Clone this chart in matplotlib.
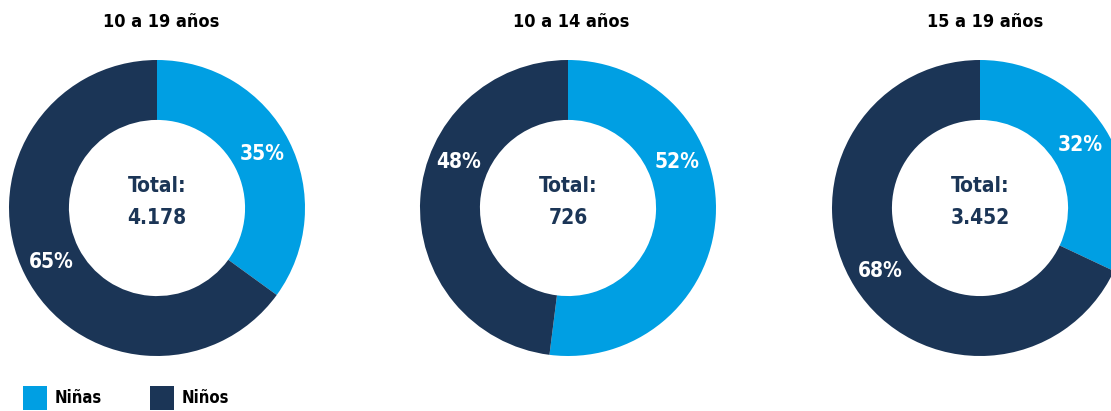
import matplotlib
matplotlib.use("Agg")
import numpy as np
import matplotlib.pyplot as plt
from matplotlib.patches import Patch

# data
groups = ["10 a 19 años", "10 a 14 años", "15 a 19 años"]
totals = ["4.178", "726", "3.452"]
ninas_pct = [35, 52, 32]
ninos_pct = [65, 48, 68]
legend_labels = ["Niñas", "Niños"]

LIGHT = "#009fe3"
DARK = "#1b3556"
plt.rcParams["font.family"] = ["DejaVu Sans"]
plt.rcParams["font.stretch"] = "condensed"
plt.rcParams["font.weight"] = "bold"

fig = plt.figure(figsize=(11.11, 4.11), dpi=100)

W, H = 1111, 411
R = 148  # outer radius in px
centers_x = [157, 568, 980]
center_y = 411 - 208
title_x = [161, 571, 985]

for i, group in enumerate(groups):
    ax = fig.add_axes([(centers_x[i] - R) / W, (center_y - R) / H, 2 * R / W, 2 * R / H])
    vals = [ninas_pct[i], ninos_pct[i]]
    wedges, _ = ax.pie(vals, colors=[LIGHT, DARK], startangle=90, counterclock=False,
                       radius=1, wedgeprops=dict(width=0.405, edgecolor="none"))
    # percent labels in the ring
    for w, v in zip(wedges, vals):
        ang = (w.theta1 + w.theta2) / 2
        if i == 1:
            # labels in the middle chart sit higher up
            ang = 23 if v == ninas_pct[i] else 157
        r = 0.8
        ax.text(r * np.cos(np.radians(ang)), r * np.sin(np.radians(ang)), f"{v}%",
                ha="center", va="center", color="white", fontsize=15, fontweight="bold")
    ax.text(0, 0.15, "Total:", ha="center", va="center", color=DARK, fontsize=15, fontweight="bold")
    ax.text(0, -0.07, totals[i], ha="center", va="center", color=DARK, fontsize=15, fontweight="bold")
    ax.set_xlim(-1, 1)
    ax.set_ylim(-1, 1)
    ax.set_aspect("equal")
    ax.axis("off")
    fig.text(title_x[i] / W, 1 - 22 / H, group, ha="center", va="center",
             fontsize=13, fontweight="bold", color="black")

handles = [Patch(facecolor=LIGHT), Patch(facecolor=DARK)]
fig.legend(handles, legend_labels, loc="lower left", bbox_to_anchor=(0.007, -0.033),
           ncol=2, frameon=False, handlelength=1.45, handleheight=1.8, handletextpad=0.45,
           columnspacing=2.9, prop=dict(size=12, weight="bold"))

fig.savefig("out.png", dpi=100)
